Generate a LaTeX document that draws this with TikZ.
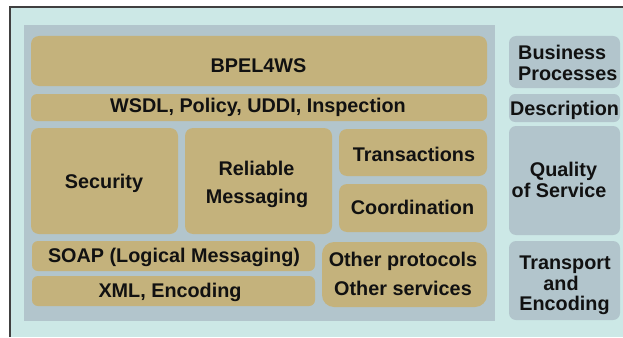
\documentclass[tikz,border=0pt]{standalone}
\usepackage{fontspec}
\setmainfont{Liberation Sans}
\definecolor{bgcyan}{HTML}{CCE8E6}
\definecolor{panelgray}{HTML}{B2C5CC}
\definecolor{tan}{HTML}{C4B27C}
\definecolor{ink}{HTML}{111111}
\begin{document}
\begin{tikzpicture}[x=1pt,y=-1pt,
  tanbox/.style={fill=tan,rounded corners=8pt},
  graybox/.style={fill=panelgray,rounded corners=7pt},
  lbl/.style={font=\fontsize{19.8}{22}\selectfont\bfseries,text=ink,inner sep=0pt,anchor=base}]
\useasboundingbox (0,0) rectangle (623,337);
\fill[white] (0,0) rectangle (623,337);
\fill[bgcyan] (10,7) rectangle (623,337);
\draw[line width=1.5pt,draw=black!75] (10,337) -- (10,7) -- (623,7);
\fill[panelgray] (24,25) rectangle (495,321);
% tan boxes
\path[tanbox] (31,36) rectangle (487,86);
\path[tanbox,rounded corners=6pt] (31,94) rectangle (487,121);
\path[tanbox] (31,128) rectangle (178,234);
\path[tanbox] (185,128) rectangle (332,234);
\path[tanbox] (339,129) rectangle (487,176);
\path[tanbox] (339,184) rectangle (487,232);
\path[tanbox,rounded corners=6pt] (32,241) rectangle (315,271);
\path[tanbox,rounded corners=6pt] (32,276) rectangle (315,306);
\path[tanbox,rounded corners=12pt] (322,242) rectangle (487,307);
% right gray boxes
\path[graybox] (509,36) rectangle (620,88);
\path[graybox,rounded corners=6pt] (509,94) rectangle (620,122);
\path[graybox] (509,126) rectangle (620,235);
\path[graybox] (509,241) rectangle (620,320);
% labels
\node[lbl] (bpel) at (258.5,72) {BPEL4WS};
\node[lbl] (wsdl) at (258,112) {WSDL, Policy, UDDI, Inspection};
\node[lbl] (sec) at (104,188) {Security};
\node[lbl] (rel1) at (256.5,175) {Reliable};
\node[lbl] (rel2) at (257,203.5) {Messaging};
\node[lbl] (trans) at (414,161) {Transactions};
\node[lbl] (coord) at (412.5,214.5) {Coordination};
\node[lbl] (soap) at (174,262) {SOAP (Logical Messaging)};
\node[lbl] (xml) at (170,297.5) {XML, Encoding};
\node[lbl] (oth1) at (403,266) {Other protocols};
\node[lbl] (oth2) at (403,295) {Other services};
\node[lbl,anchor=base west] (bp1) at (518,59.5) {Business};
\node[lbl,anchor=base west] (bp2) at (518,80) {Processes};
\node[lbl] (desc) at (564.5,115) {Description};
\node[lbl] (qos1) at (563.5,176) {Quality};
\node[lbl] (qos2) at (559,197) {of Service};
\node[lbl] (tae1) at (565,269.5) {Transport};
\node[lbl] (tae2) at (561,290) {and};
\node[lbl] (tae3) at (564.5,310.5) {Encoding};
\end{tikzpicture}
\end{document}
